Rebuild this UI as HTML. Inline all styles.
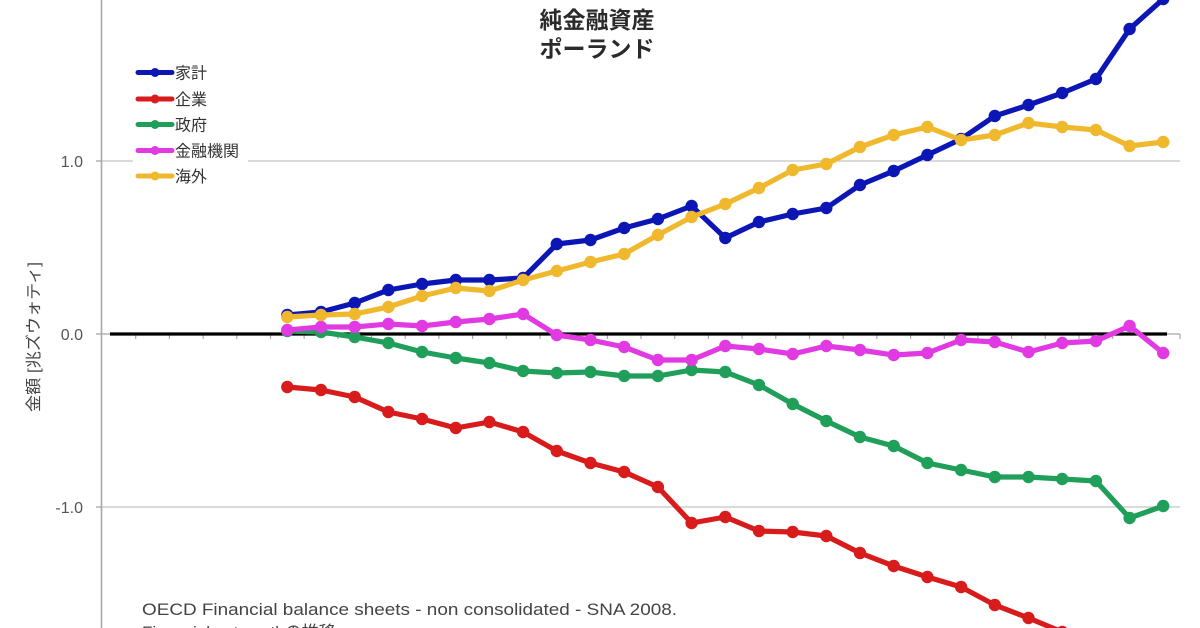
<!DOCTYPE html>
<html><head><meta charset="utf-8"><style>
html,body{margin:0;padding:0;background:#fff;width:1200px;height:628px;overflow:hidden;}
svg{display:block;}
text{font-family:"Liberation Sans","Noto Sans CJK JP",sans-serif;}
</style></head><body>
<svg width="1200" height="628" viewBox="0 0 1200 628" xmlns="http://www.w3.org/2000/svg">
<defs>
<marker id="mb" markerWidth="14" markerHeight="14" refX="7" refY="7" markerUnits="userSpaceOnUse"><circle cx="7" cy="7" r="6.2" fill="#0c16b4"/></marker>
<marker id="mr" markerWidth="14" markerHeight="14" refX="7" refY="7" markerUnits="userSpaceOnUse"><circle cx="7" cy="7" r="6.2" fill="#d81b1b"/></marker>
<marker id="mg" markerWidth="14" markerHeight="14" refX="7" refY="7" markerUnits="userSpaceOnUse"><circle cx="7" cy="7" r="6.2" fill="#1f9f5a"/></marker>
<marker id="mm" markerWidth="14" markerHeight="14" refX="7" refY="7" markerUnits="userSpaceOnUse"><circle cx="7" cy="7" r="6.2" fill="#e23ae2"/></marker>
<marker id="my" markerWidth="14" markerHeight="14" refX="7" refY="7" markerUnits="userSpaceOnUse"><circle cx="7" cy="7" r="6.2" fill="#f0b82c"/></marker>
<clipPath id="cp"><rect x="0" y="0" width="1200" height="628"/></clipPath>
</defs>
<g clip-path="url(#cp)">
<rect width="1200" height="628" fill="#fff"/>
<!-- gridlines -->
<line x1="101" y1="161" x2="1180" y2="161" stroke="#c4c4c4" stroke-width="1.3"/>
<line x1="101" y1="507" x2="1180" y2="507" stroke="#c4c4c4" stroke-width="1.3"/>
<!-- y axis -->
<line x1="101.5" y1="0" x2="101.5" y2="628" stroke="#a8a8a8" stroke-width="1.6"/>
<line x1="96" y1="161" x2="101" y2="161" stroke="#a8a8a8" stroke-width="1.3"/>
<line x1="96" y1="334" x2="101" y2="334" stroke="#a8a8a8" stroke-width="1.3"/>
<line x1="96" y1="507" x2="101" y2="507" stroke="#a8a8a8" stroke-width="1.3"/>
<text x="83" y="167" text-anchor="end" font-size="16" fill="#555">1.0</text>
<text x="83" y="340" text-anchor="end" font-size="16" fill="#555">0.0</text>
<text x="83" y="513" text-anchor="end" font-size="16" fill="#555">-1.0</text>
<text transform="translate(39,337) rotate(-90)" text-anchor="middle" font-size="16" fill="#444" textLength="150" lengthAdjust="spacingAndGlyphs">金額 [兆ズウォティ]</text>
<!-- x axis -->
<line x1="101" y1="334" x2="1180" y2="334" stroke="#a8a8a8" stroke-width="1.3"/>
<g stroke="#a8a8a8" stroke-width="1.2">
<line x1="135.7" y1="334" x2="135.7" y2="339"/><line x1="169.4" y1="334" x2="169.4" y2="339"/><line x1="203.1" y1="334" x2="203.1" y2="339"/><line x1="236.8" y1="334" x2="236.8" y2="339"/><line x1="270.5" y1="334" x2="270.5" y2="339"/><line x1="304.1" y1="334" x2="304.1" y2="339"/><line x1="337.8" y1="334" x2="337.8" y2="339"/><line x1="371.5" y1="334" x2="371.5" y2="339"/><line x1="405.2" y1="334" x2="405.2" y2="339"/><line x1="438.9" y1="334" x2="438.9" y2="339"/><line x1="472.6" y1="334" x2="472.6" y2="339"/><line x1="506.3" y1="334" x2="506.3" y2="339"/><line x1="540" y1="334" x2="540" y2="339"/><line x1="573.7" y1="334" x2="573.7" y2="339"/><line x1="607.4" y1="334" x2="607.4" y2="339"/><line x1="641" y1="334" x2="641" y2="339"/><line x1="674.7" y1="334" x2="674.7" y2="339"/><line x1="708.4" y1="334" x2="708.4" y2="339"/><line x1="742.1" y1="334" x2="742.1" y2="339"/><line x1="775.8" y1="334" x2="775.8" y2="339"/><line x1="809.5" y1="334" x2="809.5" y2="339"/><line x1="843.2" y1="334" x2="843.2" y2="339"/><line x1="876.9" y1="334" x2="876.9" y2="339"/><line x1="910.6" y1="334" x2="910.6" y2="339"/><line x1="944.3" y1="334" x2="944.3" y2="339"/><line x1="977.9" y1="334" x2="977.9" y2="339"/><line x1="1011.6" y1="334" x2="1011.6" y2="339"/><line x1="1045.3" y1="334" x2="1045.3" y2="339"/><line x1="1079" y1="334" x2="1079" y2="339"/><line x1="1112.7" y1="334" x2="1112.7" y2="339"/><line x1="1146.4" y1="334" x2="1146.4" y2="339"/><line x1="1180" y1="334" x2="1180" y2="339"/>
</g>
<line x1="110" y1="334" x2="1167" y2="334" stroke="#000" stroke-width="3.2"/>
<!-- series -->
<g fill="none" stroke-width="5.2" stroke-linejoin="round" stroke-linecap="round">
<polyline stroke="#0c16b4" marker-start="url(#mb)" marker-mid="url(#mb)" marker-end="url(#mb)" points="287.3,315 321,312 354.7,303 388.4,290 422.1,284 455.8,280 489.4,280 523.1,278 556.8,244 590.5,240 624.2,228 657.9,219 691.6,206 725.3,238 759,222 792.7,214 826.3,208 860,185 893.7,171 927.4,155 961.1,139 994.8,116 1028.5,105 1062.2,93 1095.9,79 1129.6,29 1163.2,-1"/>
<polyline stroke="#d81b1b" marker-start="url(#mr)" marker-mid="url(#mr)" marker-end="url(#mr)" points="287.3,387 321,390 354.7,397 388.4,412 422.1,419 455.8,428 489.4,422 523.1,432 556.8,451 590.5,463 624.2,472 657.9,487 691.6,523 725.3,517 759,531 792.7,532 826.3,536 860,553 893.7,566 927.4,577 961.1,587 994.8,605 1028.5,618 1062.2,632 1095.9,645 1129.6,655 1163.2,665"/>
<polyline stroke="#1f9f5a" marker-start="url(#mg)" marker-mid="url(#mg)" marker-end="url(#mg)" points="287.3,331 321,332 354.7,337 388.4,343 422.1,352 455.8,358 489.4,363 523.1,371 556.8,373 590.5,372 624.2,376 657.9,376 691.6,370 725.3,372 759,385 792.7,404 826.3,421 860,437 893.7,446 927.4,463 961.1,470 994.8,477 1028.5,477 1062.2,479 1095.9,481 1129.6,518 1163.2,506"/>
<polyline stroke="#e23ae2" marker-start="url(#mm)" marker-mid="url(#mm)" marker-end="url(#mm)" points="287.3,330 321,327 354.7,327 388.4,324 422.1,326 455.8,322 489.4,319 523.1,314 556.8,335 590.5,340 624.2,347 657.9,360 691.6,360 725.3,346 759,349 792.7,354 826.3,346 860,350 893.7,355 927.4,353 961.1,340 994.8,342 1028.5,352 1062.2,343 1095.9,341 1129.6,326 1163.2,353"/>
<polyline stroke="#f0b82c" marker-start="url(#my)" marker-mid="url(#my)" marker-end="url(#my)" points="287.3,317 321,315 354.7,314 388.4,307 422.1,296 455.8,288 489.4,291 523.1,280 556.8,271 590.5,262 624.2,254 657.9,235 691.6,217 725.3,204 759,188 792.7,170 826.3,164 860,147 893.7,135 927.4,127 961.1,140 994.8,135 1028.5,123 1062.2,127 1095.9,130 1129.6,146 1163.2,142"/>
</g>
<!-- legend -->
<rect x="133" y="58" width="115" height="130" fill="#fff"/>
<g stroke-width="5" stroke-linecap="round">
<line x1="138" y1="72.5" x2="172" y2="72.5" stroke="#0c16b4"/><circle cx="155" cy="72.5" r="4.5" fill="#0c16b4"/>
<line x1="138" y1="99" x2="172" y2="99" stroke="#d81b1b"/><circle cx="155" cy="99" r="4.5" fill="#d81b1b"/>
<line x1="138" y1="124.5" x2="172" y2="124.5" stroke="#1f9f5a"/><circle cx="155" cy="124.5" r="4.5" fill="#1f9f5a"/>
<line x1="138" y1="150.5" x2="172" y2="150.5" stroke="#e23ae2"/><circle cx="155" cy="150.5" r="4.5" fill="#e23ae2"/>
<line x1="138" y1="176" x2="172" y2="176" stroke="#f0b82c"/><circle cx="155" cy="176" r="4.5" fill="#f0b82c"/>
</g>
<g font-size="16" fill="#333">
<text x="175" y="78.5">家計</text>
<text x="175" y="105">企業</text>
<text x="175" y="130.5">政府</text>
<text x="175" y="156.5">金融機関</text>
<text x="175" y="182">海外</text>
</g>
<!-- title -->
<text x="597" y="28" text-anchor="middle" font-size="23" font-weight="bold" fill="#2a2a2a">純金融資産</text>
<text x="597" y="57" text-anchor="middle" font-size="23" font-weight="bold" fill="#2a2a2a">ポーランド</text>
<!-- footer -->
<text x="142" y="615" font-size="17" fill="#444" textLength="535" lengthAdjust="spacingAndGlyphs">OECD Financial balance sheets - non consolidated - SNA 2008.</text>
<text x="142" y="638" font-size="17" fill="#444">Financial net worthの推移</text>
</g>
</svg>
</body></html>
